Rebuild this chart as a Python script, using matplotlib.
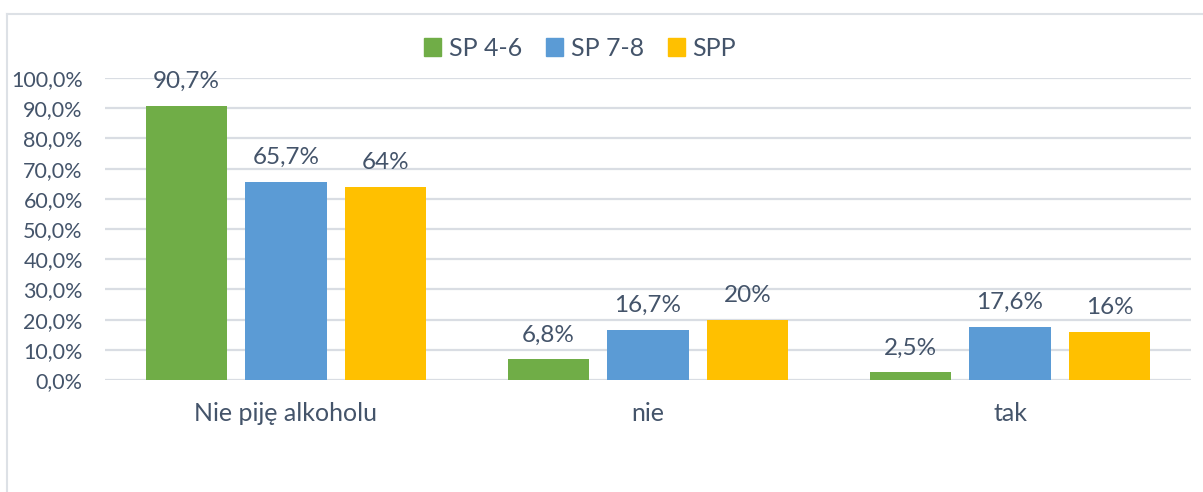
import matplotlib
matplotlib.use("Agg")
import matplotlib.pyplot as plt
from matplotlib.lines import Line2D
import numpy as np

categories = ["Nie piję alkoholu", "nie", "tak"]
series_names = ["SP 4-6", "SP 7-8", "SPP"]
sp46 = [90.7, 6.8, 2.5]
sp78 = [65.7, 16.7, 17.6]
spp = [64.0, 20.0, 16.0]
labels_sp46 = ["90,7%", "6,8%", "2,5%"]
labels_sp78 = ["65,7%", "16,7%", "17,6%"]
labels_spp = ["64%", "20%", "16%"]
yticks = [0, 10, 20, 30, 40, 50, 60, 70, 80, 90, 100]
ytick_labels = ["0,0%", "10,0%", "20,0%", "30,0%", "40,0%", "50,0%",
                "60,0%", "70,0%", "80,0%", "90,0%", "100,0%"]

colors = ["#70AD47", "#5B9BD5", "#FFC000"]
text_color = "#44546A"
grid_color = "#D9DDE3"

plt.rcParams['font.family'] = ['Lato', 'DejaVu Sans']

W, H = 1203, 492
fig = plt.figure(figsize=(W / 100, H / 100), dpi=100)
ax = fig.add_axes([105 / W, 1 - 380 / H, (1191 - 105) / W, (380 - 78) / H])

x = np.arange(len(categories))
bw = 0.224
step = 0.276
all_vals = [sp46, sp78, spp]
all_labels = [labels_sp46, labels_sp78, labels_spp]
for i, (vals, labs, c, name) in enumerate(zip(all_vals, all_labels, colors, series_names)):
    pos = x + (i - 1) * step
    ax.bar(pos, vals, width=bw, color=c, label=name, zorder=3)
    for p, v, l in zip(pos, vals, labs):
        ax.annotate(l, (p, v), xytext=(0, 10), textcoords="offset points",
                    ha="center", va="bottom", fontsize=17.5, color=text_color)

ax.set_xlim(-0.5, 2.5)
ax.set_ylim(0, 100)
ax.set_yticks(yticks)
ax.set_yticklabels(ytick_labels)
ax.set_xticks(x)
ax.set_xticklabels(categories)
ax.tick_params(axis="y", length=0, pad=16, labelsize=15.5, labelcolor=text_color)
ax.tick_params(axis="x", length=0, pad=16, labelsize=18, labelcolor=text_color)
ax.grid(axis="y", color=grid_color, linewidth=1.6, zorder=0)
for s in ax.spines.values():
    s.set_visible(False)

handles = [plt.Rectangle((0, 0), 1, 1, color=c) for c in colors]
fig.legend(handles, series_names, loc="center", bbox_to_anchor=(580 / W, 1 - 48 / H),
           ncol=3, frameon=False, fontsize=18, labelcolor=text_color,
           handlelength=0.7, handleheight=0.7, handletextpad=0.3, columnspacing=0.95)

# outer chart frame (top and left edges visible)
fig.add_artist(Line2D([7 / W, 1.0], [1 - 14 / H, 1 - 14 / H], color="#DDE1E6", linewidth=1.5,
                      transform=fig.transFigure))
fig.add_artist(Line2D([7 / W, 7 / W], [0, 1 - 14 / H], color="#DDE1E6", linewidth=1.5,
                      transform=fig.transFigure))

fig.savefig("out.png", dpi=100)
